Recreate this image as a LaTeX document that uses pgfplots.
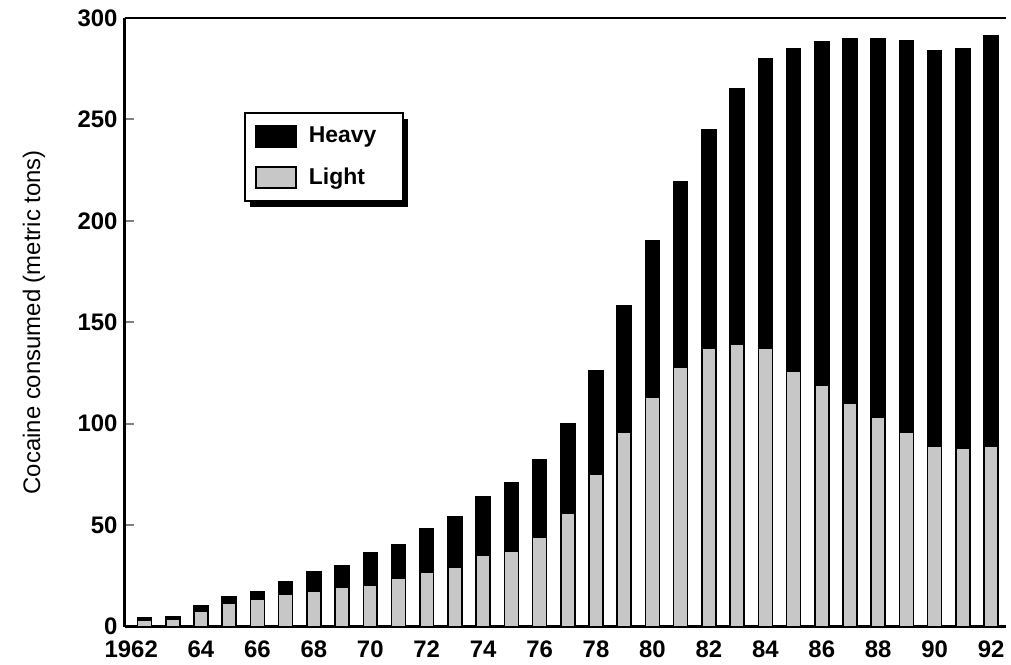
\documentclass[border=0pt]{standalone}
\usepackage{fontspec}
\setmainfont{Liberation Sans}
\usepackage{pgfplots}
\usepackage{pgfplotstable}
\pgfplotsset{compat=1.18}
\usetikzlibrary{shadows}

% year, light, heavy (metric tons)
\pgfplotstableread{
year light heavy
1962 3    1.5
1963 3.5  1.5
1964 7.5  2.5
1965 11.5 3
1966 13.5 3.5
1967 16   6
1968 17.5 9.5
1969 19.5 10.5
1970 20.5 16
1971 24   16.5
1972 27   21
1973 29   25
1974 35   29
1975 37   34
1976 44   38
1977 56   44
1978 75   51
1979 96   62
1980 113  77
1981 128  91
1982 137  108
1983 139  126
1984 137  143
1985 126  159
1986 119  169
1987 110  179.5
1988 103  186.5
1989 96   192.5
1990 89   195
1991 88   197
1992 89   202
}\cocaine

\begin{document}
\begin{tikzpicture}
\begin{axis}[
    scale only axis,
    width=442.5pt, height=305.5pt,
    ybar stacked,
    bar width=7pt,
    xmin=1961.29, xmax=1992.53,
    ymin=0, ymax=300,
    axis x line*=bottom,
    axis y line*=left,
    axis line style={line width=1.5pt},
    xtick={1962,1964,...,1992},
    xticklabels={\llap{19}62,64,66,68,70,72,74,76,78,80,82,84,86,88,90,92},
    xtick style={draw=none},
    ytick={0,50,...,300},
    ytick style={line width=1pt},
    major tick length=5pt,
    /pgf/number format/assume math mode=true,
    tick label style={font=\bfseries\fontsize{12}{14}\selectfont},
    yticklabel style={xshift=0pt},
    xticklabel style={yshift=-3pt, text height=9pt, text depth=0pt},
    ylabel={Cocaine consumed (metric tons)},
    ylabel style={font=\fontsize{12}{14}\selectfont, yshift=9.5pt},
    reverse legend,
    legend style={
        at={(0.136,0.845)}, anchor=north west,
        draw=black, line width=1pt, fill=white,
        font=\bfseries\fontsize{11.5}{13}\selectfont,
        inner xsep=5pt, inner ysep=5pt,
        row sep=7pt,
        /tikz/every odd column/.append style={column sep=4pt},
        drop shadow={shadow xshift=2.5pt, shadow yshift=-3pt, fill=black, opacity=1},
    },
    legend cell align=left,
]
\addplot[fill=black!22, draw=black, line width=0.8pt,
    legend image code/.code={%
        \pgfsetfillcolor{black!22}\pgfsetstrokecolor{black}\pgfsetlinewidth{0.9pt}%
        \pgfpathrectangle{\pgfpoint{0pt}{-5.25pt}}{\pgfpoint{20pt}{10.5pt}}%
        \pgfusepath{fill,stroke}}]
    table[x=year, y=light] {\cocaine};
\addlegendentry{\makebox[40pt][l]{Light}}
\addplot[fill=black, draw=black, line width=0.8pt,
    legend image code/.code={%
        \pgfsetfillcolor{black}\pgfsetstrokecolor{black}\pgfsetlinewidth{0.9pt}%
        \pgfpathrectangle{\pgfpoint{0pt}{-5.25pt}}{\pgfpoint{20pt}{10.5pt}}%
        \pgfusepath{fill,stroke}}]
    table[x=year, y=heavy] {\cocaine};
\addlegendentry{\makebox[40pt][l]{Heavy}}
\draw[line width=1pt] (rel axis cs:0,1) -- (rel axis cs:1,1);
\end{axis}
\path (current axis.south west) ++(-62.5pt,-17.5pt);
\path (current axis.north east) ++(0.5pt,9pt);
\end{tikzpicture}
\end{document}
